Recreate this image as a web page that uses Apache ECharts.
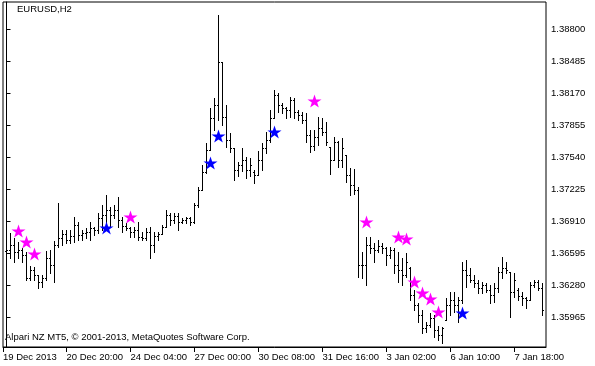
<!DOCTYPE html>
<html><head><meta charset="utf-8">
<script src="https://cdn.jsdelivr.net/npm/echarts@6/dist/echarts.min.js"></script>
<style>html,body{margin:0;padding:0;background:#fff}#c{width:595px;height:366px}</style>
</head><body><div id="c"></div>
<script>
const opens = [
1.36614,1.36624,1.36673,1.36604,1.36624,1.36575,1.36348,1.36427,1.36378,1.36309,
1.36348,1.36545,1.36476,1.36673,1.36742,1.36782,1.36723,1.36762,1.36870,1.36772,
1.36791,1.36801,1.36841,1.36821,1.36939,1.36969,1.37018,1.36969,1.37018,1.36919,
1.36860,1.36841,1.36801,1.36821,1.36752,1.36742,1.36801,1.36673,1.36762,1.36782,
1.36850,1.36969,1.36919,1.36959,1.36900,1.36919,1.36939,1.36900,1.37067,1.37215,
1.37392,1.37608,1.37923,1.38051,1.38475,1.37933,1.37707,1.37628,1.37412,1.37461,
1.37510,1.37412,1.37392,1.37362,1.37510,1.37628,1.37707,1.37923,1.38150,1.38051,
1.38022,1.38002,1.38101,1.37983,1.37953,1.37904,1.37756,1.37648,1.37736,1.37825,
1.37786,1.37638,1.37510,1.37687,1.37510,1.37559,1.37362,1.37264,1.37215,1.36476,
1.36476,1.36673,1.36644,1.36624,1.36663,1.36644,1.36575,1.36624,1.36476,1.36427,
1.36378,1.36447,1.36181,1.36083,1.35984,1.35856,1.35886,1.35955,1.35837,1.35787,
1.35935,1.36083,1.36132,1.36083,1.36132,1.36427,1.36378,1.36329,1.36299,1.36250,
1.36280,1.36230,1.36181,1.36250,1.36408,1.36447,1.36408,1.36211,1.36230,1.36171,
1.36152,1.36132,1.36280,1.36309,1.36250];
const highs = [
1.36772,1.36791,1.36742,1.36703,1.36644,1.36604,1.36467,1.36457,1.36378,1.36378,
1.36614,1.36624,1.36713,1.37087,1.36821,1.36821,1.36821,1.36949,1.36900,1.36821,
1.36841,1.36900,1.36850,1.36988,1.37067,1.37165,1.37047,1.37067,1.37146,1.36949,
1.36890,1.36850,1.36850,1.36900,1.36801,1.36841,1.36850,1.36801,1.36801,1.36870,
1.37018,1.36988,1.36988,1.36988,1.36939,1.36949,1.36949,1.37087,1.37244,1.37461,
1.37677,1.38022,1.38120,1.38937,1.38475,1.38051,1.37776,1.37628,1.37490,1.37628,
1.37540,1.37530,1.37412,1.37599,1.37677,1.37786,1.38002,1.38199,1.38170,1.38071,
1.38032,1.38130,1.38120,1.38002,1.37983,1.37973,1.37805,1.37805,1.37933,1.37923,
1.37884,1.37638,1.37736,1.37697,1.37727,1.37559,1.37431,1.37421,1.37244,1.36604,
1.36752,1.36752,1.36693,1.36723,1.36693,1.36654,1.36654,1.36644,1.36604,1.36545,
1.36595,1.36457,1.36230,1.36102,1.36033,1.35915,1.36004,1.35984,1.35876,1.35866,
1.36152,1.36211,1.36211,1.36161,1.36506,1.36526,1.36447,1.36378,1.36329,1.36309,
1.36299,1.36280,1.36299,1.36457,1.36555,1.36506,1.36408,1.36398,1.36250,1.36211,
1.36161,1.36309,1.36329,1.36329,1.36299];
const lows = [
1.36526,1.36545,1.36506,1.36545,1.36506,1.36329,1.36329,1.36329,1.36250,1.36260,
1.36329,1.36398,1.36309,1.36654,1.36673,1.36693,1.36693,1.36703,1.36723,1.36723,
1.36742,1.36723,1.36772,1.36791,1.36821,1.36890,1.36850,1.36939,1.36850,1.36801,
1.36821,1.36752,1.36752,1.36723,1.36723,1.36723,1.36545,1.36604,1.36723,1.36782,
1.36850,1.36870,1.36890,1.36821,1.36890,1.36890,1.36870,1.36890,1.37047,1.37215,
1.37382,1.37608,1.37805,1.37904,1.37855,1.37638,1.37589,1.37313,1.37353,1.37402,
1.37333,1.37353,1.37284,1.37362,1.37412,1.37579,1.37687,1.37923,1.37983,1.37973,
1.37923,1.37933,1.37923,1.37904,1.37874,1.37687,1.37589,1.37608,1.37658,1.37756,
1.37658,1.37372,1.37510,1.37441,1.37441,1.37293,1.37165,1.37175,1.36358,1.36348,
1.36280,1.36595,1.36506,1.36604,1.36595,1.36476,1.36545,1.36398,1.36309,1.36280,
1.36358,1.36132,1.36033,1.35915,1.35807,1.35817,1.35866,1.35768,1.35738,1.35709,
1.35935,1.35984,1.36014,1.35915,1.36102,1.36260,1.36309,1.36260,1.36201,1.36201,
1.36211,1.36102,1.36112,1.36211,1.36348,1.36398,1.35965,1.36161,1.36132,1.36083,
1.36053,1.36132,1.36260,1.36230,1.35984];
const closes = [
1.36624,1.36673,1.36604,1.36624,1.36575,1.36348,1.36427,1.36378,1.36309,1.36348,
1.36545,1.36476,1.36673,1.36742,1.36782,1.36723,1.36762,1.36870,1.36772,1.36791,
1.36801,1.36841,1.36821,1.36939,1.36969,1.37018,1.36969,1.37018,1.36919,1.36860,
1.36841,1.36801,1.36821,1.36752,1.36742,1.36801,1.36673,1.36762,1.36782,1.36850,
1.36969,1.36919,1.36959,1.36900,1.36919,1.36939,1.36900,1.37067,1.37215,1.37392,
1.37608,1.37923,1.38051,1.38475,1.37933,1.37707,1.37628,1.37412,1.37461,1.37510,
1.37412,1.37461,1.37362,1.37510,1.37628,1.37707,1.37923,1.38150,1.38051,1.38022,
1.38002,1.38101,1.37983,1.37953,1.37904,1.37756,1.37648,1.37736,1.37825,1.37786,
1.37687,1.37510,1.37687,1.37510,1.37628,1.37362,1.37264,1.37215,1.36476,1.36476,
1.36673,1.36644,1.36624,1.36663,1.36644,1.36575,1.36624,1.36476,1.36427,1.36378,
1.36506,1.36181,1.36083,1.35984,1.35856,1.35886,1.35955,1.35837,1.35787,1.35856,
1.36083,1.36132,1.36083,1.36132,1.36427,1.36378,1.36329,1.36299,1.36250,1.36280,
1.36230,1.36181,1.36250,1.36408,1.36447,1.36427,1.36211,1.36329,1.36171,1.36152,
1.36132,1.36280,1.36309,1.36250,1.36033];
// star signals: [bar index, price]
const magentaStars = [[3,1.36811],[5,1.36703],[7,1.36585],[31,1.36949],[77,1.38091],[90,1.36900],
  [98,1.36752],[100,1.36732],[102,1.36309],[104,1.36201],[106,1.36142],[108,1.36014]];
const blueStars = [[25,1.36841],[51,1.37480],[53,1.37746],[67,1.37786],[114,1.36004]];
const timeLabels = ['19 Dec 2013','20 Dec 20:00','24 Dec 04:00','27 Dec 00:00','30 Dec 08:00',
  '31 Dec 16:00','3 Jan 02:00','6 Jan 10:00','7 Jan 18:00'];
const timeLabelBars = [-1,15,31,47,63,79,95,111,127];
const priceTicks = [1.35965,1.36280,1.36595,1.36910,1.37225,1.37540,1.37855,1.38170,1.38485,1.38800];

const FONT = '"Liberation Sans", Arial, sans-serif';
const xMin = -0.875, xMax = 134.875;
const tickPos = timeLabelBars.map(v => Math.max(v, xMin));
const STAR = 'path://M50 0 L61.23 34.55 L97.55 34.55 L68.16 55.9 L79.39 90.45 L50 69.1 L20.61 90.45 L31.84 55.9 L2.45 34.55 L38.77 34.55 Z';

const bars = opens.map((o, i) => [i, o, highs[i], lows[i], closes[i]]);

function renderOHLC(params, api) {
  const x = api.value(0);
  const o = api.coord([x, api.value(1)]);
  const h = api.coord([x, api.value(2)]);
  const l = api.coord([x, api.value(3)]);
  const c = api.coord([x, api.value(4)]);
  const px = Math.floor(o[0]) + 0.5;
  const st = {stroke: '#000', lineWidth: 1};
  const yo = Math.round(o[1]) + 0.5, yc = Math.round(c[1]) + 0.5;
  return {type: 'group', children: [
    {type: 'line', shape: {x1: px, y1: Math.round(h[1]), x2: px, y2: Math.round(l[1]) + 1}, style: st},
    {type: 'line', shape: {x1: px - 1.5, y1: yo, x2: px, y2: yo}, style: st},
    {type: 'line', shape: {x1: px, y1: yc, x2: px + 1.5, y2: yc}, style: st}
  ]};
}

const chart = echarts.init(document.getElementById('c'), null, {renderer: 'canvas'});
chart.setOption({
  animation: false,
  backgroundColor: '#fff',
  grid: {left: 3, top: 2, right: 49, bottom: 19, show: true, borderColor: '#000', borderWidth: 1, backgroundColor: 'transparent'},
  xAxis: {
    type: 'value', min: xMin, max: xMax, position: 'bottom',
    axisLine: {show: true, lineStyle: {color: '#000', width: 1}},
    axisTick: {show: true, length: 5, lineStyle: {color: '#000'}, customValues: tickPos},
    axisLabel: {show: true, customValues: tickPos, color: '#000', fontFamily: FONT, fontSize: 9.5, align: 'left', margin: 5,
      formatter: v => { let k = 0, d = 1e9; tickPos.forEach((t, j) => { if (Math.abs(t - v) < d) { d = Math.abs(t - v); k = j; } }); return timeLabels[k]; }},
    splitLine: {show: false}
  },
  yAxis: {
    type: 'value', min: 1.35669, max: 1.39065, position: 'right', scale: true,
    axisLine: {show: true, lineStyle: {color: '#000', width: 1}},
    axisTick: {show: true, length: 4, inside: false, lineStyle: {color: '#000'}, customValues: priceTicks},
    axisLabel: {show: true, customValues: priceTicks, color: '#000', fontFamily: FONT, fontSize: 9.5, margin: 5, align: 'left',
      formatter: v => v.toFixed(5)},
    splitLine: {show: false}
  },
  graphic: [
    {type: 'text', left: 17, top: 4, style: {text: 'EURUSD,H2', font: '9.5px ' + FONT, fill: '#000'}},
    {type: 'text', left: 5, top: 332, style: {text: 'Alpari NZ MT5, \u00a9 2001-2013, MetaQuotes Software Corp.', font: '9.5px ' + FONT, fill: '#000'}}
  ],
  series: [
    {type: 'custom', renderItem: renderOHLC, data: bars, encode: {x: 0, y: [1, 2, 3, 4]}, clip: true, z: 2},
    {type: 'scatter', data: magentaStars, symbol: STAR, symbolSize: [14, 13], itemStyle: {color: '#ff00ff', opacity: 1}, z: 3, silent: true},
    {type: 'scatter', data: blueStars, symbol: STAR, symbolSize: [14, 13], itemStyle: {color: '#0000ff', opacity: 1}, z: 3, silent: true}
  ]
});
</script></body></html>
